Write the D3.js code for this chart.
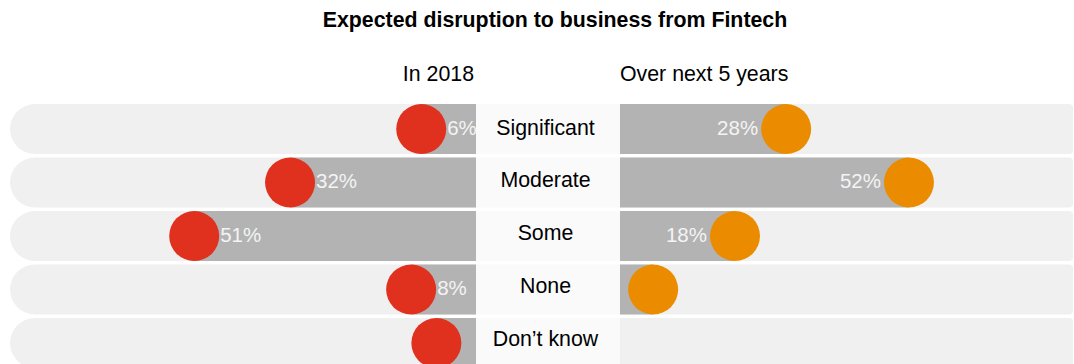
<!DOCTYPE html>
<html>
<head>
<meta charset="utf-8">
<script src="https://cdn.jsdelivr.net/npm/d3@7"></script>
<style>
  html, body { margin: 0; padding: 0; background: #ffffff; }
  svg { display: block; font-family: "Liberation Sans", Arial, Helvetica, sans-serif; }
</style>
</head>
<body>
<svg id="chart" width="1074" height="364"></svg>
<script>
// Survey answers: expected disruption to business from Fintech
const categories = ["Significant", "Moderate", "Some", "None", "Don\u2019t know"];
const in2018 = [6, 32, 51, 8, 3];
const next5Years = [28, 52, 18, 2, 0];
const panelTitles = ["In 2018", "Over next 5 years"];
const chartTitle = "Expected disruption to business from Fintech";

const svg = d3.select("#chart");

// Layout: left panel | label column | right panel
const leftStart = 10, labelStart = 476, labelEnd = 620, rightEnd = 1073;
const dotR = 25;

const colors = {
  track: "#f0f0f0",
  bar: "#b3b3b3",
  labelBg: "#fafafa",
  left: "#e0301e",
  right: "#eb8c00",
  valueText: "#f4f4f4",
  text: "#000000"
};

// Rows
const y = d3.scaleBand()
  .domain(categories)
  .range([104, 368])
  .paddingInner(0.0654)
  .paddingOuter(0);

// Baselines of the category names in the centre column
const yLabel = d3.scalePoint()
  .domain(categories)
  .range([134.5, 346.3]);

// Value scales, growing outward from the label column
const xLeft = d3.scaleLinear().domain([0, 100]).range([labelStart - 24.5, labelStart - 24.5 - 504.5]);
const xRight = d3.scaleLinear().domain([0, 100]).range([labelEnd + 22.9, labelEnd + 22.9 + 511.6]);

const rows = categories.map((c, i) => ({ cat: c, a: in2018[i], b: next5Years[i] }));

// Title and panel headings
svg.append("text")
  .attr("x", 555).attr("y", 27.3)
  .attr("text-anchor", "middle")
  .attr("font-size", "21.33px").attr("font-weight", "bold")
  .attr("fill", colors.text)
  .text(chartTitle);

svg.append("text")
  .attr("x", 474).attr("y", 80.5)
  .attr("text-anchor", "end")
  .attr("font-size", "21.33px")
  .attr("fill", colors.text)
  .text(panelTitles[0]);

svg.append("text")
  .attr("x", 620).attr("y", 80.5)
  .attr("text-anchor", "start")
  .attr("font-size", "21.33px")
  .attr("fill", colors.text)
  .text(panelTitles[1]);

// Track path: rounded on the left end only
function leftTrack(x0, x1, y0, h) {
  const r = h / 2;
  return `M${x1},${y0} L${x0 + r},${y0} A${r},${r} 0 0 0 ${x0 + r},${y0 + h} L${x1},${y0 + h} Z`;
}
// Track path: slightly rounded right corners
function rightTrack(x0, x1, y0, h) {
  const r = 4;
  return `M${x0},${y0} L${x1 - r},${y0} Q${x1},${y0} ${x1},${y0 + r} L${x1},${y0 + h - r} Q${x1},${y0 + h} ${x1 - r},${y0 + h} L${x0},${y0 + h} Z`;
}

const g = svg.append("g");
const row = g.selectAll("g.row").data(rows).join("g").attr("class", "row");

// Background tracks
row.append("path")
  .attr("d", d => leftTrack(leftStart, labelStart, y(d.cat), y.bandwidth()))
  .attr("fill", colors.track);
row.append("path")
  .attr("d", d => rightTrack(labelEnd, rightEnd, y(d.cat), y.bandwidth()))
  .attr("fill", colors.track);

// Label column cells
row.append("rect")
  .attr("x", labelStart).attr("width", labelEnd - labelStart)
  .attr("y", d => y(d.cat)).attr("height", y.bandwidth())
  .attr("fill", colors.labelBg);

// Bars from the centre column out to each dot
row.filter(d => d.a > 0).append("rect")
  .attr("x", d => xLeft(d.a)).attr("width", d => labelStart - xLeft(d.a))
  .attr("y", d => y(d.cat)).attr("height", y.bandwidth())
  .attr("fill", colors.bar);
row.filter(d => d.b > 0).append("rect")
  .attr("x", labelEnd).attr("width", d => xRight(d.b) - labelEnd)
  .attr("y", d => y(d.cat)).attr("height", y.bandwidth())
  .attr("fill", colors.bar);

// Dots
row.filter(d => d.a > 0).append("circle")
  .attr("cx", d => xLeft(d.a)).attr("cy", d => y(d.cat) + y.bandwidth() / 2)
  .attr("r", dotR)
  .attr("fill", colors.left);
row.filter(d => d.b > 0).append("circle")
  .attr("cx", d => xRight(d.b)).attr("cy", d => y(d.cat) + y.bandwidth() / 2)
  .attr("r", dotR)
  .attr("fill", colors.right);

// Value labels (only where there is room between the dot and the centre)
const minLabel = 5;
row.filter(d => d.a >= minLabel).append("text")
  .attr("x", d => xLeft(d.a) + dotR + 1)
  .attr("y", d => y(d.cat) + y.bandwidth() / 2 + 5.5)
  .attr("text-anchor", "start")
  .attr("font-size", "20.5px")
  .attr("fill", colors.valueText)
  .text(d => d.a + "%");
row.filter(d => d.b >= minLabel).append("text")
  .attr("x", d => xRight(d.b) - dotR - 3)
  .attr("y", d => y(d.cat) + y.bandwidth() / 2 + 5.5)
  .attr("text-anchor", "end")
  .attr("font-size", "20.5px")
  .attr("fill", colors.valueText)
  .text(d => d.b + "%");

// Category labels
row.append("text")
  .attr("x", 545.5)
  .attr("y", d => yLabel(d.cat))
  .attr("text-anchor", "middle")
  .attr("font-size", "21.33px")
  .attr("fill", colors.text)
  .text(d => d.cat);
</script>
</body>
</html>
